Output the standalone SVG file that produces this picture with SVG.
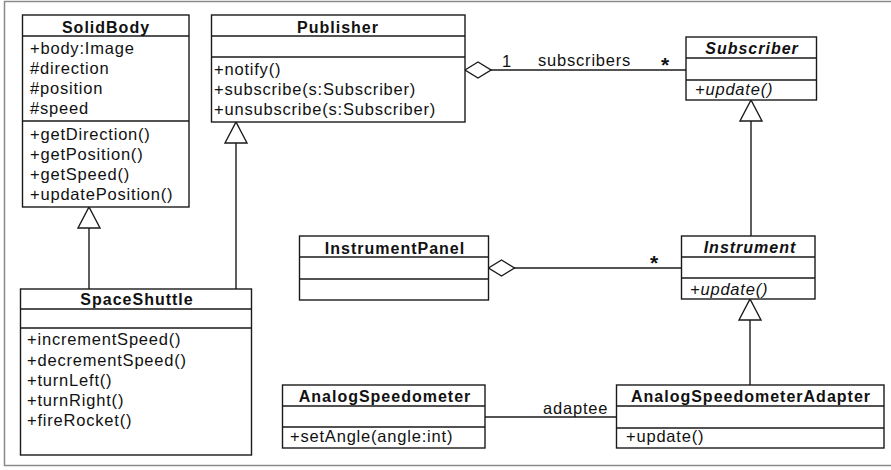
<svg xmlns="http://www.w3.org/2000/svg" width="891" height="470" viewBox="0 0 891 470">
<style>
.box{fill:#fff;stroke:#1a1a1a;stroke-width:1.4}
.div{stroke:#1a1a1a;stroke-width:1.4;fill:none}
.t{font-family:"Liberation Sans",Arial,sans-serif;font-size:16.5px;letter-spacing:0.8px;fill:#111}
.h{font-family:"Liberation Sans",Arial,sans-serif;font-size:16px;font-weight:bold;letter-spacing:1px;fill:#111;text-anchor:middle}
.i{font-style:italic}
.ln{stroke:#1a1a1a;stroke-width:1.4;fill:none}
.lbl{font-family:"Liberation Sans",Arial,sans-serif;font-size:16.5px;letter-spacing:0.8px;fill:#111}
.star{font-family:"Liberation Sans",Arial,sans-serif;font-size:21px;font-weight:bold;fill:#111}
</style>
<defs>
<marker id="tri" markerUnits="userSpaceOnUse" viewBox="0 0 24 24" refX="22" refY="12" markerWidth="24" markerHeight="24" orient="auto">
<path d="M1,1 L22,12 L1,23 Z" fill="#fff" stroke="#1a1a1a" stroke-width="1.4"/>
</marker>
<marker id="dia" markerUnits="userSpaceOnUse" viewBox="0 0 28 20" refX="1" refY="10" markerWidth="28" markerHeight="20" orient="auto">
<path d="M1,10 L14,2 L27,10 L14,18 Z" fill="#fff" stroke="#1a1a1a" stroke-width="1.4"/>
</marker>
</defs>
<rect x="0" y="0" width="891" height="470" fill="#fff"/>
<rect x="4.5" y="1.5" width="892" height="464" fill="none" stroke="#8a8a8a" stroke-width="1.5"/>

<g id="connectors">
<path class="ln" d="M465,70 H686" marker-start="url(#dia)"/>
<path class="ln" d="M488.5,268 H681.5" marker-start="url(#dia)"/>
<path class="ln" d="M751,236 V100" marker-end="url(#tri)"/>
<path class="ln" d="M750,385 V299" marker-end="url(#tri)"/>
<path class="ln" d="M89,289 V207" marker-end="url(#tri)"/>
<path class="ln" d="M236,289 V122" marker-end="url(#tri)"/>
<path class="ln" d="M485,417 H616.5"/>
<text class="lbl" x="502" y="67">1</text>
<text class="lbl" x="538" y="66">subscribers</text>
<text class="star" x="661" y="72">*</text>
<text class="star" x="650" y="270">*</text>
<text class="lbl" x="543" y="414">adaptee</text>
</g>

<g id="SolidBody">
<rect class="box" x="22.5" y="15" width="166.5" height="192"/>
<path class="div" d="M22.5,36 H189 M22.5,121 H189"/>
<text class="h" x="106" y="33">SolidBody</text>
<text class="t" x="30" y="54">+body:Image</text>
<text class="t" x="30" y="74">#direction</text>
<text class="t" x="30" y="94">#position</text>
<text class="t" x="30" y="114">#speed</text>
<text class="t" x="30" y="140">+getDirection()</text>
<text class="t" x="30" y="160">+getPosition()</text>
<text class="t" x="30" y="180">+getSpeed()</text>
<text class="t" x="30" y="200">+updatePosition()</text>
</g>

<g id="Publisher">
<rect class="box" x="211.5" y="15" width="253.5" height="107"/>
<path class="div" d="M211.5,36 H465 M211.5,57 H465"/>
<text class="h" x="338" y="33">Publisher</text>
<text class="t" x="214" y="75">+notify()</text>
<text class="t" x="214" y="95">+subscribe(s:Subscriber)</text>
<text class="t" x="214" y="115">+unsubscribe(s:Subscriber)</text>
</g>

<g id="Subscriber">
<rect class="box" x="686" y="37" width="130.5" height="63"/>
<path class="div" d="M686,58 H816.5 M686,80 H816.5"/>
<text class="h i" x="752" y="54">Subscriber</text>
<text class="t i" x="695" y="95">+update()</text>
</g>

<g id="InstrumentPanel">
<rect class="box" x="299.5" y="236" width="189" height="64"/>
<path class="div" d="M299.5,257 H488.5 M299.5,279 H488.5"/>
<text class="h" x="395" y="254">InstrumentPanel</text>
</g>

<g id="Instrument">
<rect class="box" x="681.5" y="236" width="133.5" height="63"/>
<path class="div" d="M681.5,257 H815 M681.5,278 H815"/>
<text class="h i" x="750" y="253">Instrument</text>
<text class="t i" x="690" y="295">+update()</text>
</g>

<g id="SpaceShuttle">
<rect class="box" x="20.5" y="289" width="231" height="166"/>
<path class="div" d="M20.5,309 H251.5 M20.5,328 H251.5"/>
<text class="h" x="137" y="305">SpaceShuttle</text>
<text class="t" x="27" y="345">+incrementSpeed()</text>
<text class="t" x="27" y="366">+decrementSpeed()</text>
<text class="t" x="27" y="386">+turnLeft()</text>
<text class="t" x="27" y="406">+turnRight()</text>
<text class="t" x="27" y="426">+fireRocket()</text>
</g>

<g id="AnalogSpeedometer">
<rect class="box" x="282.5" y="385" width="202.5" height="63"/>
<path class="div" d="M282.5,406 H485 M282.5,427 H485"/>
<text class="h" x="385" y="401.5">AnalogSpeedometer</text>
<text class="t" x="290" y="442">+setAngle(angle:int)</text>
</g>

<g id="AnalogSpeedometerAdapter">
<rect class="box" x="616.5" y="385" width="267.5" height="63"/>
<path class="div" d="M616.5,406 H884 M616.5,428 H884"/>
<text class="h" x="751" y="401.5">AnalogSpeedometerAdapter</text>
<text class="t" x="626" y="442">+update()</text>
</g>
</svg>
